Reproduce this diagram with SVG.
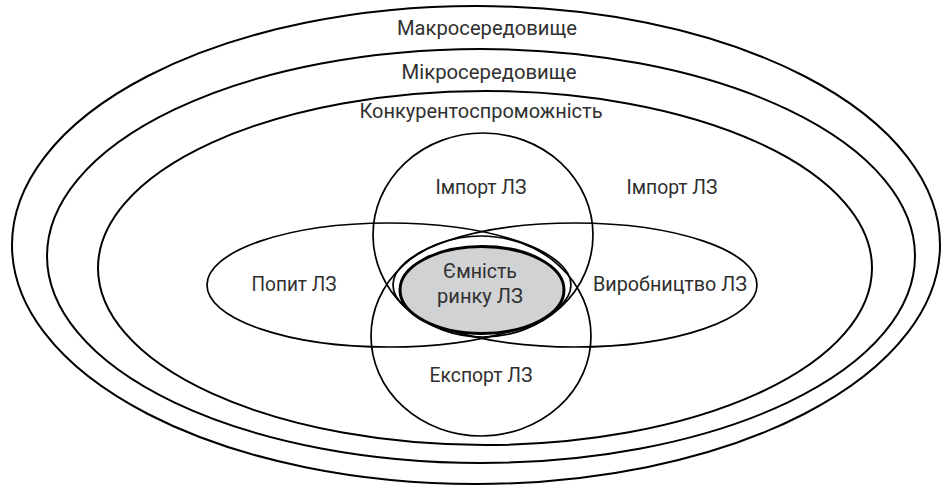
<svg xmlns="http://www.w3.org/2000/svg" width="941" height="486" viewBox="0 0 941 486">
  <style>
    .ring { fill: none; stroke: #000; stroke-width: 2; }
    .set { fill: none; stroke: #000; stroke-width: 1.7; }
    .core { fill: #d1d2d4; stroke: #000; stroke-width: 3; }
    .lbl { font-family: Roboto, "Noto Sans", "Liberation Sans", sans-serif; font-size: 21px; fill: #303030; text-anchor: middle; }
  </style>

  <!-- Nested environments -->
  <g id="macro">
    <ellipse class="ring" cx="476" cy="245" rx="464" ry="239"/>
    <text class="lbl" x="487" y="35" textLength="180" lengthAdjust="spacingAndGlyphs">Макросередовище</text>
  </g>
  <g id="micro">
    <ellipse class="ring" cx="481" cy="256" rx="434" ry="207"/>
    <text class="lbl" x="489" y="79" textLength="175" lengthAdjust="spacingAndGlyphs">Мікросередовище</text>
  </g>
  <g id="competitiveness">
    <ellipse class="ring" cx="485" cy="268" rx="387" ry="177"/>
    <text class="lbl" x="481" y="118" textLength="243" lengthAdjust="spacingAndGlyphs">Конкурентоспроможність</text>
  </g>

  <!-- Overlapping market components -->
  <g id="import">
    <ellipse class="set" cx="483" cy="235" rx="110" ry="102"/>
    <text class="lbl" x="481" y="194" textLength="91" lengthAdjust="spacingAndGlyphs">Імпорт ЛЗ</text>
  </g>
  <g id="import-outer">
    <text class="lbl" x="672" y="194" textLength="91" lengthAdjust="spacingAndGlyphs">Імпорт ЛЗ</text>
  </g>
  <g id="export">
    <ellipse class="set" cx="481" cy="336" rx="110" ry="100"/>
    <text class="lbl" x="481" y="382" textLength="103" lengthAdjust="spacingAndGlyphs">Експорт ЛЗ</text>
  </g>
  <g id="demand">
    <ellipse class="set" cx="389" cy="285" rx="182" ry="62"/>
    <text class="lbl" x="294" y="291" textLength="85" lengthAdjust="spacingAndGlyphs">Попит ЛЗ</text>
  </g>
  <g id="production">
    <ellipse class="set" cx="575" cy="285" rx="182" ry="62"/>
    <text class="lbl" x="670" y="291" textLength="154" lengthAdjust="spacingAndGlyphs">Виробництво ЛЗ</text>
  </g>

  <!-- Market capacity at the intersection -->
  <g id="capacity">
    <ellipse class="core" cx="482" cy="290" rx="82" ry="43.5"/>
    <text class="lbl" x="480" y="278" textLength="74" lengthAdjust="spacingAndGlyphs">Ємність</text>
    <text class="lbl" x="480" y="303" textLength="86" lengthAdjust="spacingAndGlyphs">ринку ЛЗ</text>
  </g>
</svg>
